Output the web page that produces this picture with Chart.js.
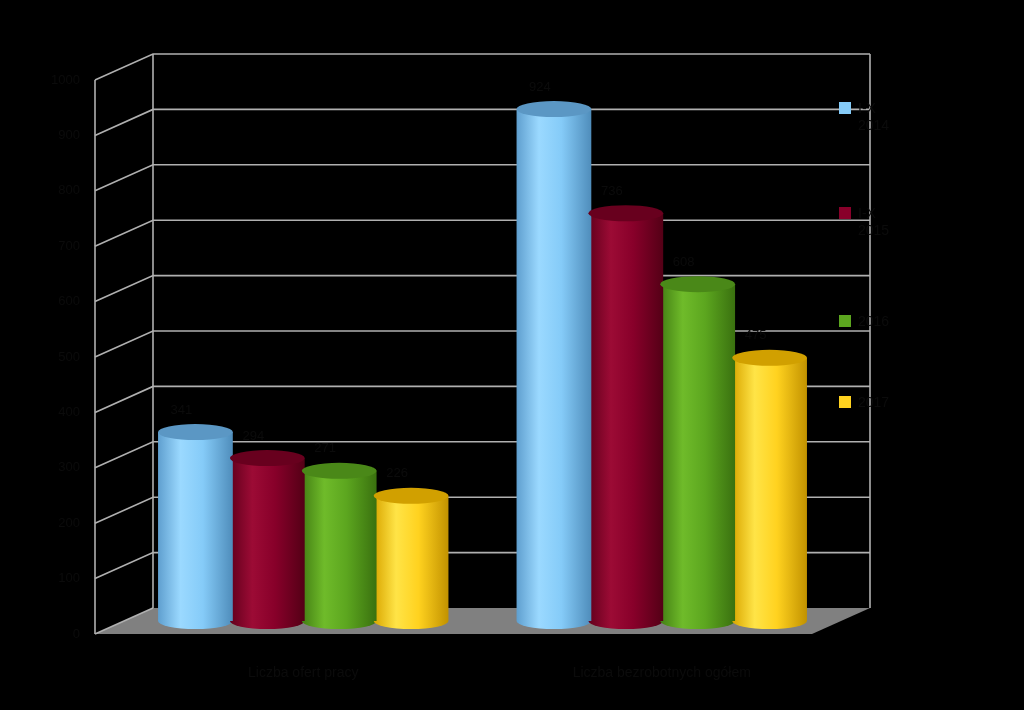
<!DOCTYPE html>
<html>
<head>
<meta charset="utf-8">
<script src="https://cdn.jsdelivr.net/npm/chart.js@4.4.1/dist/chart.umd.min.js"></script>
<style>
  body { margin: 0; background: #000; }
  #wrap { position: relative; width: 1024px; height: 710px; background: #000; }
  #legend { position: absolute; left: 839px; top: 0; font-family: "Liberation Sans", Arial, sans-serif; font-size: 14px; color: #0b0b0b; }
  .item { position: absolute; left: 0; width: 90px; line-height: 17px; }
  .box { position: absolute; left: 0; top: 2px; width: 12px; height: 12px; }
  .txt { position: absolute; left: 19px; top: 0; white-space: nowrap; }
</style>
</head>
<body>
<div id="wrap">
  <canvas id="chart" width="1024" height="710"></canvas>
  <div id="legend"></div>
</div>
<script>
const categories = ['Liczba ofert pracy', 'Liczba bezrobotnych ogółem'];
const seriesNames = ['I-X\n2014', 'I-X\n2015', '2016', '2017'];
const values2014 = [341, 924];
const values2015 = [294, 736];
const values2016 = [271, 608];
const values2017 = [226, 475];
const yTicks = [0, 100, 200, 300, 400, 500, 600, 700, 800, 900, 1000];

// colours: [left edge, highlight, middle, right edge, top]
const shades = [
    ['#5f9fcf', '#9bd9ff', '#85cbf8', '#4f8dbb', '#5b97c4'],
    ['#62001c', '#9c0b35', '#88002a', '#540016', '#68001e'],
    ['#437f14', '#6fbb2a', '#5ca61f', '#3a710f', '#4a8818'],
    ['#d9a600', '#ffe447', '#ffd21f', '#c29200', '#d1a000']
];
const legendTops = [100, 205, 313, 394];
const textColor = '#0b0b0b';

const depthX = 29;
const depthY = 13;
const ellipseRy = 8;

const ctx = document.getElementById('chart').getContext('2d');

// back wall, side wall, floor and grid lines
const framePlugin = {
    id: 'frame',
    beforeDatasetsDraw(chart) {
        const c = chart.ctx;
        const a = chart.chartArea;
        const y = chart.scales.y;
        const y0 = y.getPixelForValue(0);
        const yTop = y.getPixelForValue(y.max);
        c.save();
        c.fillStyle = '#808080';
        c.beginPath();
        c.moveTo(a.left - depthX, y0 + depthY);
        c.lineTo(a.right - depthX, y0 + depthY);
        c.lineTo(a.right + depthX, y0 - depthY);
        c.lineTo(a.left + depthX, y0 - depthY);
        c.closePath();
        c.fill();

        c.strokeStyle = '#b0b0b0';
        c.lineWidth = 1.6;
        y.ticks.forEach(t => {
            const py = y.getPixelForValue(t.value);
            c.beginPath();
            c.moveTo(a.left - depthX, py + depthY);
            c.lineTo(a.left + depthX, py - depthY);
            if (t.value !== 0) c.lineTo(a.right + depthX, py - depthY);
            c.stroke();
        });
        c.beginPath();
        c.moveTo(a.left - depthX, yTop + depthY);
        c.lineTo(a.left - depthX, y0 + depthY);
        c.moveTo(a.left + depthX, yTop - depthY);
        c.lineTo(a.left + depthX, y0 - depthY);
        c.moveTo(a.right + depthX, yTop - depthY);
        c.lineTo(a.right + depthX, y0 - depthY);
        c.stroke();
        c.restore();

        // cylinder shading for each bar
        chart.data.datasets.forEach((ds, di) => {
            const s = shades[di];
            chart.getDatasetMeta(di).data.forEach(el => {
                const left = el.x - el.width / 2;
                const g = c.createLinearGradient(left, 0, left + el.width, 0);
                g.addColorStop(0, s[0]);
                g.addColorStop(0.3, s[1]);
                g.addColorStop(0.6, s[2]);
                g.addColorStop(1, s[3]);
                el.options = Object.assign({}, el.options, { backgroundColor: g });
                el.$grad = g;
            });
        });
    },
    afterDatasetsDraw(chart) {
        const c = chart.ctx;
        c.save();
        chart.data.datasets.forEach((ds, di) => {
            const s = shades[di];
            chart.getDatasetMeta(di).data.forEach((el, i) => {
                const rx = el.width / 2;
                // rounded bottom
                c.fillStyle = el.$grad;
                c.beginPath();
                c.ellipse(el.x, el.base, rx, ellipseRy, 0, 0, Math.PI);
                c.fill();
                // top cap
                c.fillStyle = s[4];
                c.beginPath();
                c.ellipse(el.x, el.y, rx, ellipseRy, 0, 0, Math.PI * 2);
                c.fill();
                // value label
                c.fillStyle = textColor;
                c.font = '13px "Liberation Sans", Arial, sans-serif';
                c.textAlign = 'center';
                c.textBaseline = 'middle';
                c.fillText(ds.data[i], el.x - 14, el.y - 22);
            });
        });
        c.restore();
    }
};

const chart = new Chart(ctx, {
    type: 'bar',
    data: {
        labels: categories,
        datasets: [
            { label: seriesNames[0], data: values2014 },
            { label: seriesNames[1], data: values2015 },
            { label: seriesNames[2], data: values2016 },
            { label: seriesNames[3], data: values2017 }
        ]
    },
    options: {
        responsive: false,
        animation: false,
        layout: { padding: { top: 67, right: 183, bottom: 0, left: 0 } },
        datasets: {
            bar: {
                categoryPercentage: 0.802,
                barPercentage: 1.04,
                backgroundColor: (c) => shades[c.datasetIndex][2],
                borderWidth: 0
            }
        },
        scales: {
            x: {
                grid: { display: false },
                border: { display: false },
                ticks: {
                    color: textColor,
                    padding: 36,
                    font: { family: '"Liberation Sans", Arial, sans-serif', size: 14 }
                },
                afterFit(scale) { scale.height = 89; }
            },
            y: {
                min: 0,
                max: 1000,
                afterBuildTicks(scale) { scale.ticks = yTicks.map(v => ({ value: v })); },
                grid: { display: false, drawTicks: false },
                border: { display: false },
                ticks: {
                    color: textColor,
                    padding: 44,
                    labelOffset: depthY,
                    callback: (v) => String(v),
                    font: { family: '"Liberation Sans", Arial, sans-serif', size: 13 }
                },
                afterFit(scale) { scale.width = 124; }
            }
        },
        plugins: {
            legend: { display: false },
            tooltip: { enabled: false }
        }
    },
    plugins: [framePlugin]
});

// legend on the right, drawn over the grid lines like the original
const legend = document.getElementById('legend');
seriesNames.forEach((name, i) => {
    const item = document.createElement('div');
    item.className = 'item';
    item.style.top = legendTops[i] + 'px';
    const box = document.createElement('div');
    box.className = 'box';
    box.style.background = shades[i][2];
    const txt = document.createElement('div');
    txt.className = 'txt';
    txt.innerHTML = name.split('\n').join('<br>');
    item.appendChild(box);
    item.appendChild(txt);
    legend.appendChild(item);
});
</script>
</body>
</html>
